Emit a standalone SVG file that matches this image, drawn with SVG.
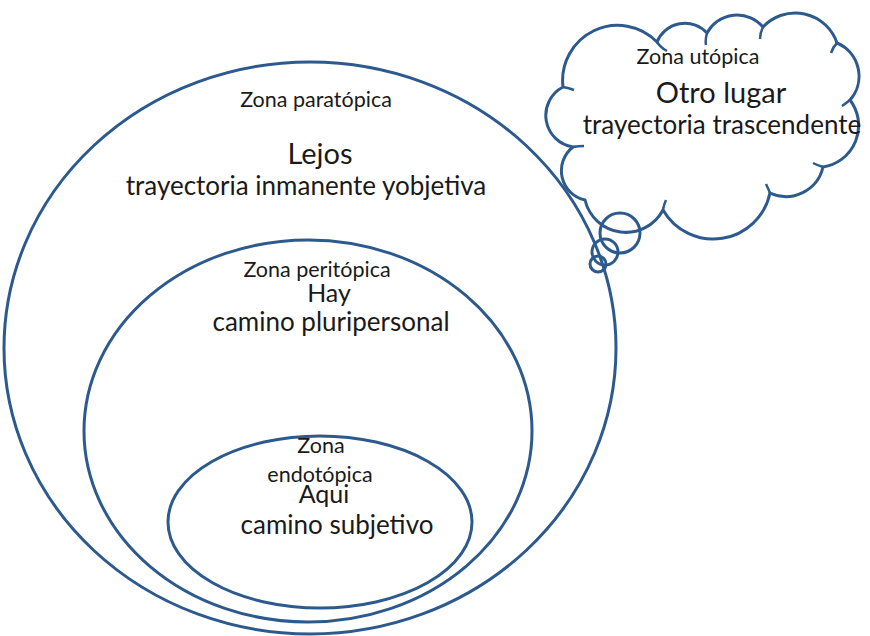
<svg xmlns="http://www.w3.org/2000/svg" width="870" height="636" viewBox="0 0 870 636">
<style>
.z{fill:none;stroke:#2d5a8e;stroke-width:3}
.t{fill:none;stroke:#2d5a8e;stroke-width:2.5}
text{font-family:Lato,"Liberation Sans",sans-serif;fill:#1a1a1a;text-anchor:middle}
.s{font-size:21.5px}
.m{font-size:26px}
.l{font-size:29px}
.h{font-size:25px}
</style>
<rect width="870" height="636" fill="#fff"/>
<g id="paratopica">
<ellipse class="z" cx="310" cy="348" rx="306" ry="286"/>
<text class="s" x="316" y="107">Zona paratópica</text>
<text class="l" x="320" y="164">Lejos</text>
<text class="m" x="306" y="195">trayectoria inmanente yobjetiva</text>
</g>
<g id="peritopica">
<ellipse class="z" cx="308" cy="431" rx="224" ry="191"/>
<text class="s" x="317" y="277">Zona peritópica</text>
<text class="h" x="329" y="302">Hay</text>
<text class="m" x="331" y="331">camino pluripersonal</text>
</g>
<g id="endotopica">
<ellipse class="z" cx="320" cy="522" rx="152" ry="86"/>
<text class="s" x="321" y="453">Zona</text>
<text class="s" x="320" y="482">endotópica</text>
<text class="h" x="324" y="503">Aqui</text>
<text class="m" x="337" y="534">camino subjetivo</text>
</g>
<g id="utopica">
<path class="z" d="M585 200 A42 42 0 0 0 663 210 A58 58 0 0 0 770 193 A38 38 0 0 0 823 167 A42 42 0 0 0 850 100 A36 36 0 0 0 837 43 A44 44 0 0 0 763 27 A34 34 0 0 0 707 33 A30 30 0 0 0 657 42 A55 55 0 0 0 563 87 A32 32 0 0 0 573 147 A30 30 0 0 0 585 200 Z"/>
<path class="t" d="M657 42 q4 6 10 9 M707 33 q-2 7 -1 12 M763 27 q-3 6 -3 12 M837 43 q-4 4 -6 10 M850 100 q-5 4 -8 6 M823 167 q-6 -2 -10 -4 M770 193 q-2 -5 -4 -9 M663 210 q1 -6 3 -10 M563 87 q6 1 11 3 M573 147 q6 -1 11 -1"/>
<text class="s" x="698" y="64">Zona utópica</text>
<text class="l" x="721" y="103">Otro lugar</text>
<text class="m" x="722" y="134">trayectoria trascendente</text>
</g>
<g id="connectors">
<circle class="z" cx="620" cy="233" r="20"/>
<circle class="z" cx="605" cy="252" r="13"/>
<circle class="z" cx="598" cy="264" r="8"/>
</g>
</svg>
